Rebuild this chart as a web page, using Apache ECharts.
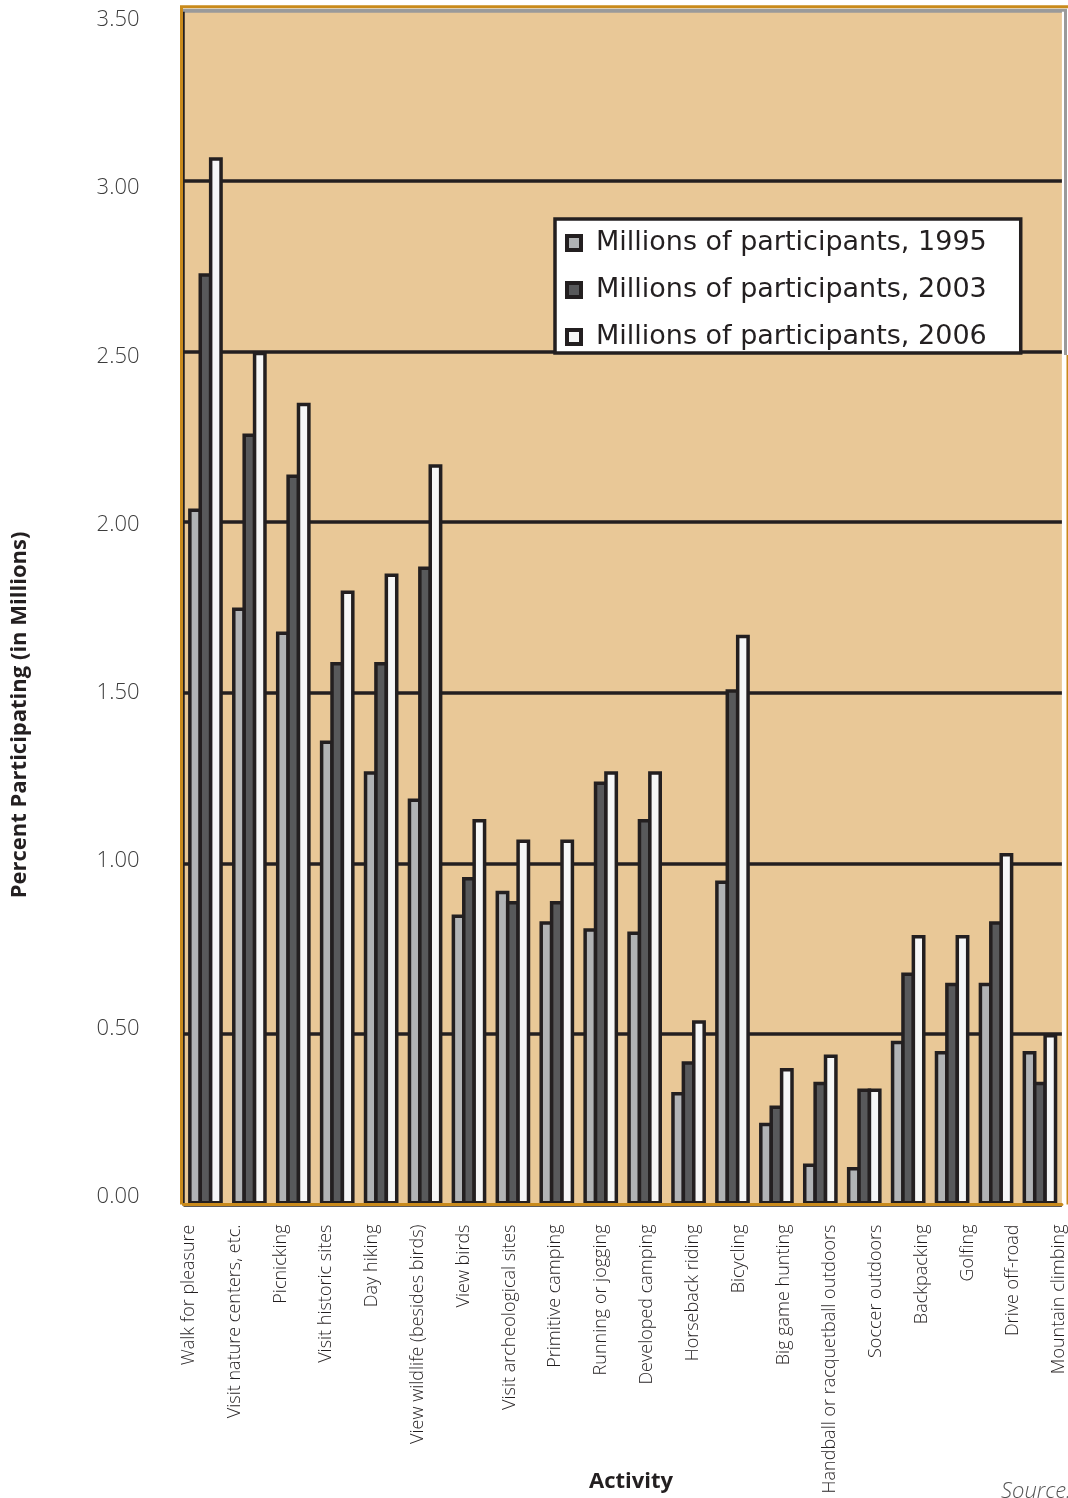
<!DOCTYPE html>
<html>
<head>
<meta charset="utf-8">
<script src="https://cdn.jsdelivr.net/npm/echarts@6/dist/echarts.min.js"></script>
<style>
html,body{margin:0;padding:0;background:#fff;}
#chart{width:1068px;height:1498px;}
</style>
</head>
<body>
<div id="chart"></div>
<script>
var categories = [
  'Walk for pleasure', 'Visit nature centers, etc.', 'Picnicking', 'Visit historic sites',
  'Day hiking', 'View wildlife (besides birds)', 'View birds', 'Visit archeological sites',
  'Primitive camping', 'Running or jogging', 'Developed camping', 'Horseback riding',
  'Bicycling', 'Big game hunting', 'Handball or racquetball outdoors', 'Soccer outdoors',
  'Backpacking', 'Golfing', 'Drive off-road', 'Mountain climbing'
];
var seriesNames = ['Millions of participants, 1995', 'Millions of participants, 2003', 'Millions of participants, 2006'];
var values1995 = [2.04, 1.75, 1.68, 1.36, 1.27, 1.19, 0.85, 0.92, 0.83, 0.81, 0.80, 0.33, 0.95, 0.24, 0.12, 0.11, 0.48, 0.45, 0.65, 0.45];
var values2003 = [2.73, 2.26, 2.14, 1.59, 1.59, 1.87, 0.96, 0.89, 0.89, 1.24, 1.13, 0.42, 1.51, 0.29, 0.36, 0.34, 0.68, 0.65, 0.83, 0.36];
var values2006 = [3.07, 2.50, 2.35, 1.80, 1.85, 2.17, 1.13, 1.07, 1.07, 1.27, 1.27, 0.54, 1.67, 0.40, 0.44, 0.34, 0.79, 0.79, 1.03, 0.50];
var yTicks = ['0.00', '0.50', '1.00', '1.50', '2.00', '2.50', '3.00', '3.50'];

var FONT = '"Open Sans", sans-serif';
var DARK = '#231f20';
var GOLD = '#c98a1b';
var TAN = '#e9c897';
var fills = ['#b1b3b5', '#58595b', '#f6f7f7'];
var allValues = [values1995, values2003, values2006];

// label nudges (styling only): padding shifts a label along its local vertical direction
function padFor(offset) {
  return offset >= 0 ? [2 * offset, 0, 0, 0] : [0, 0, -2 * offset, 0];
}
var xRich = {};
categories.forEach(function (c, i) {
  xRich['x' + i] = { fontFamily: FONT, fontWeight: 300, fontSize: 18, color: DARK, padding: padFor(-16.5 + 1.875 * i) };
});
var yRich = {};
yTicks.forEach(function (t, i) {
  yRich['y' + i] = { fontFamily: FONT, fontWeight: 300, fontSize: 22, color: '#3c3c3c', padding: padFor(9.5 - (7 - i) * 2.4) };
});

var chart = echarts.init(document.getElementById('chart'));
var option = {
  backgroundColor: '#ffffff',
  animation: false,
  grid: {
    left: 183.5, right: 4, top: 10.5, bottom: 293.5,
    show: true, backgroundColor: TAN, borderWidth: 0
  },
  legend: {
    orient: 'vertical',
    left: 555, top: 219,
    backgroundColor: '#ffffff',
    borderColor: DARK, borderWidth: 3.5, borderRadius: 0,
    padding: [9, 34, 1, 10],
    itemGap: 17,
    itemWidth: 14, itemHeight: 14,
    icon: 'rect',
    itemStyle: { borderColor: DARK, borderWidth: 4 },
    data: seriesNames,
    textStyle: { fontFamily: '"DejaVu Sans", sans-serif', fontSize: 27, color: DARK, lineHeight: 30, padding: [0, 0, 0, 10] }
  },
  xAxis: {
    type: 'category',
    data: categories,
    z: 10,
    axisLine: { show: true, lineStyle: { color: GOLD, width: 3 } },
    axisTick: { show: false },
    splitLine: { show: false },
    axisLabel: {
      interval: 0, rotate: 90, margin: 20,
      fontFamily: FONT, fontWeight: 300, fontSize: 18, color: DARK,
      formatter: function (value, index) { return '{x' + index + '|' + value + '}'; },
      rich: xRich
    }
  },
  yAxis: {
    type: 'value',
    min: 0, max: 3.5, interval: 0.5,
    axisLine: { show: true, lineStyle: { color: DARK, width: 2.5 } },
    axisTick: { show: false },
    axisLabel: {
      margin: 44, fontFamily: FONT, fontWeight: 300, fontSize: 22, color: '#3c3c3c',
      formatter: function (v) {
        var i = Math.round(v * 2);
        return '{y' + i + '|' + yTicks[i] + '}';
      },
      rich: yRich
    },
    splitLine: {
      show: true,
      lineStyle: { color: [DARK, DARK, DARK, DARK, DARK, DARK, DARK, '#9a9a9a'], width: 3.5 }
    }
  },
  graphic: [
    { type: 'polyline', z: 5, silent: true,
      shape: { points: [[183, 10.3], [1065.5, 10.3], [1065.5, 355]] },
      style: { stroke: '#9a9a9a', lineWidth: 3, fill: null } },
    { type: 'polyline', z: 5, silent: true,
      shape: { points: [[181.5, 1204.5], [181.5, 6.8], [1068, 6.8]] },
      style: { stroke: GOLD, lineWidth: 3, fill: null } },
    { type: 'line', z: 5, silent: true,
      shape: { x1: 1067.5, y1: 355, x2: 1067.5, y2: 1204.5 },
      style: { stroke: GOLD, lineWidth: 2 } },
    { type: 'text', x: 20, y: 715, rotation: Math.PI / 2, silent: true,
      style: { text: 'Percent Participating (in Millions)', fontFamily: FONT, fontWeight: 'bold', fontSize: 22,
        fill: DARK, align: 'center', verticalAlign: 'middle' } },
    { type: 'text', x: 631, y: 1482, silent: true,
      style: { text: 'Activity', fontFamily: FONT, fontWeight: 'bold', fontSize: 22,
        fill: DARK, align: 'center', verticalAlign: 'middle' } },
    { type: 'text', x: 1001, y: 1492, silent: true,
      style: { text: 'Source:', fontFamily: FONT, fontStyle: 'italic', fontWeight: 300, fontSize: 22,
        fill: '#555555', align: 'left', verticalAlign: 'middle' } }
  ],
  series: seriesNames.map(function (name, i) {
    return {
      name: name,
      type: 'bar',
      data: allValues[i],
      barWidth: 13.9,
      barGap: '-25.2%',
      itemStyle: { color: fills[i], borderColor: DARK, borderWidth: 3.5 }
    };
  })
};
chart.setOption(option);
</script>
</body>
</html>
